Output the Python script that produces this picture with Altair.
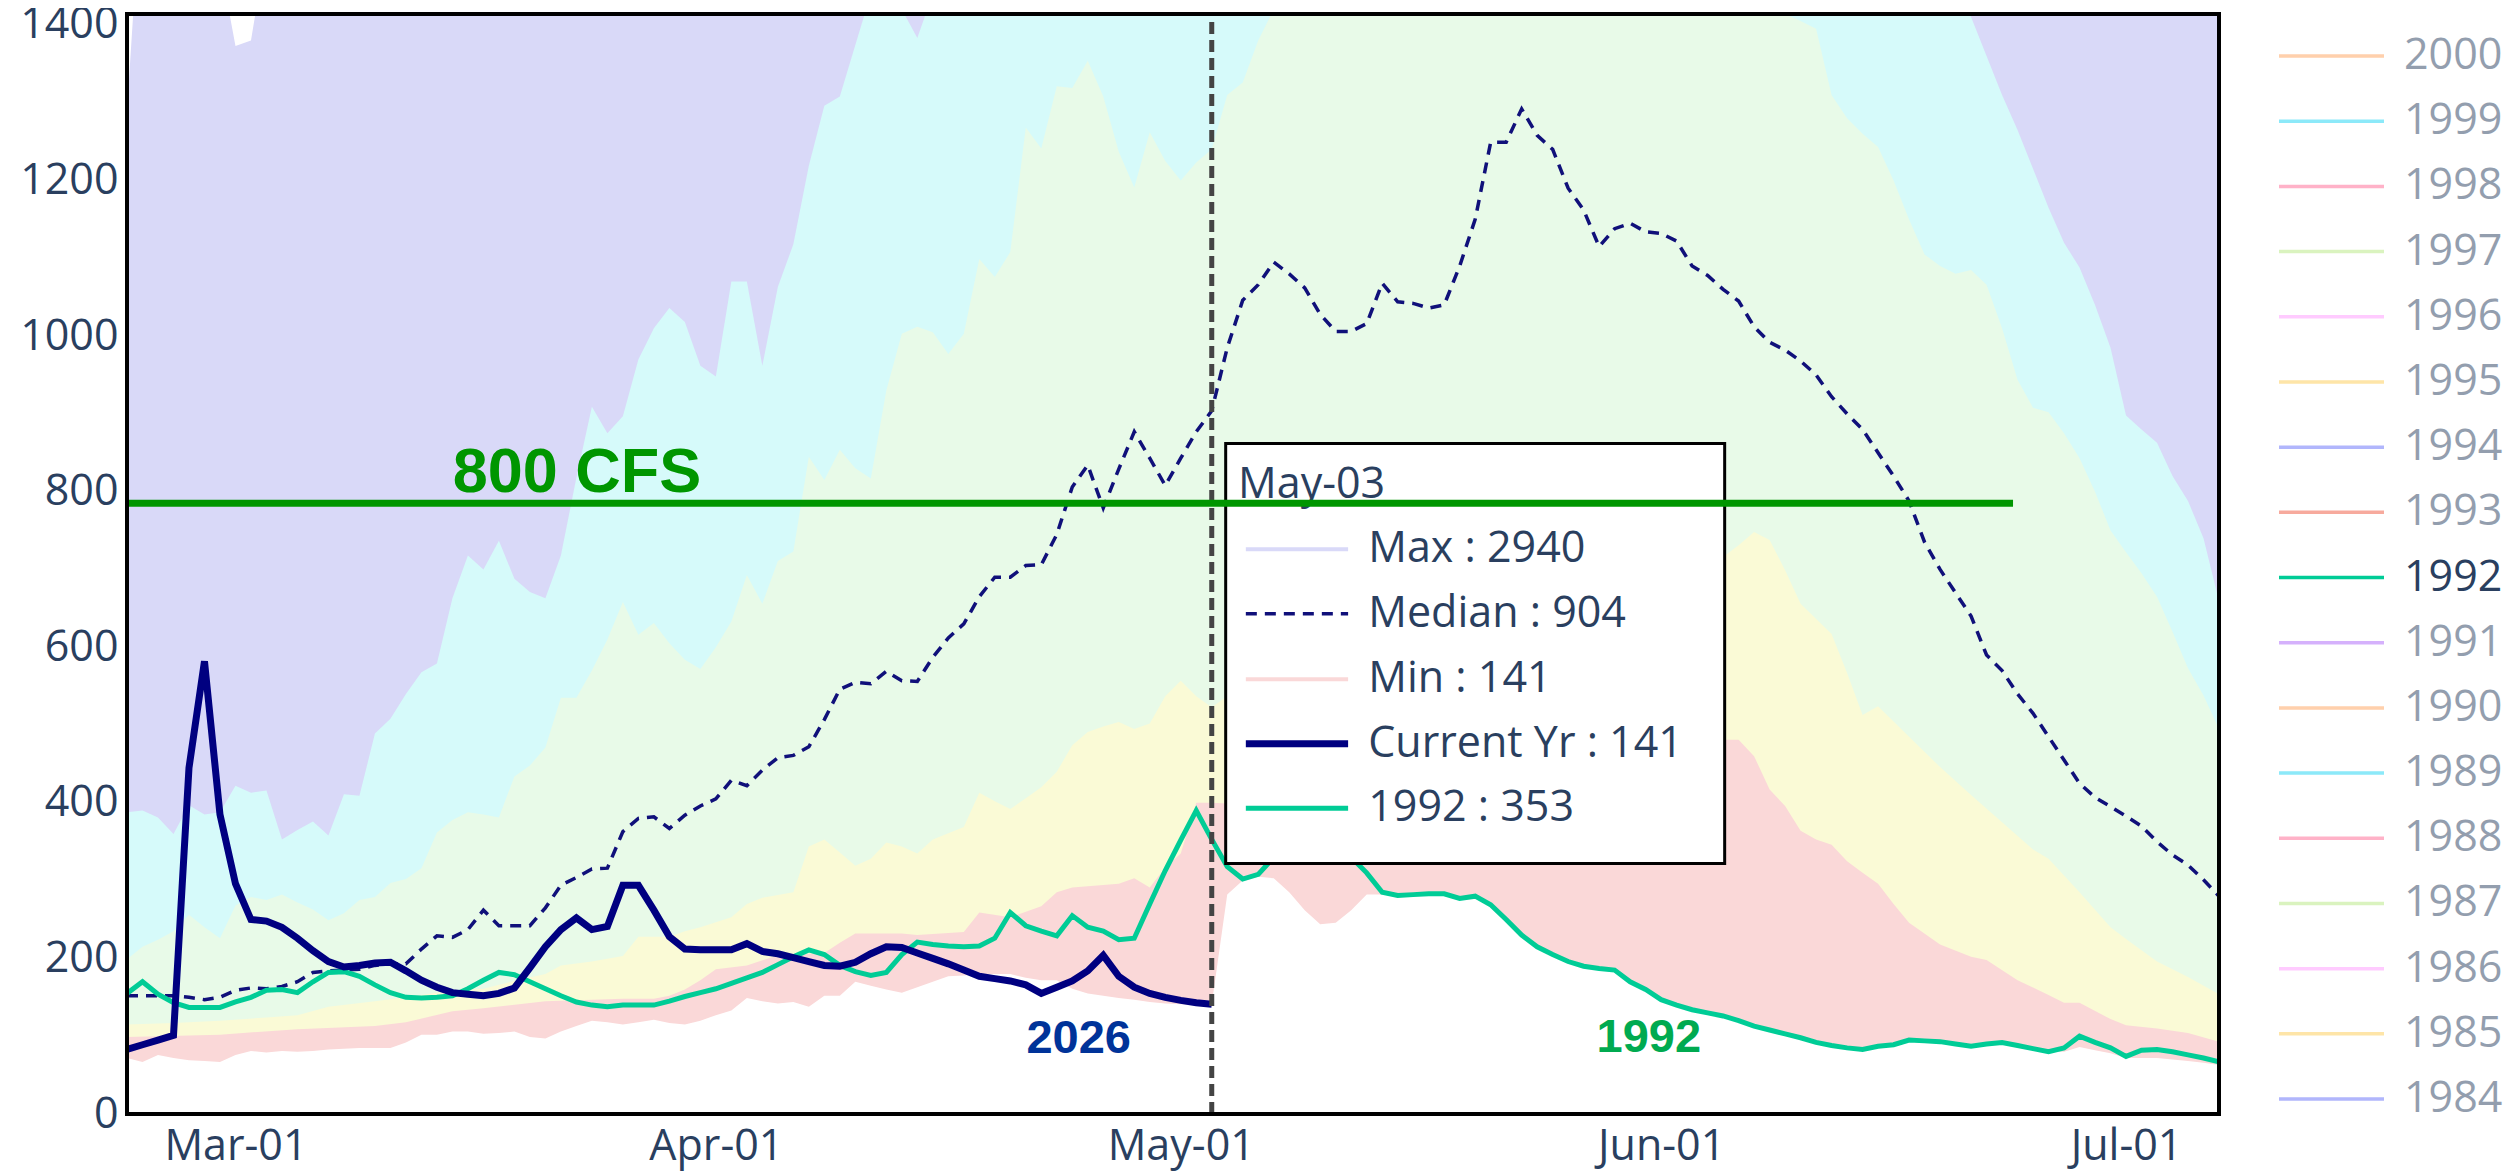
import altair as alt
import pandas as pd

START = "2026-02-22"
DOMAIN_START = "2026-02-22"
DOMAIN_END = "2026-07-07"

# ---------------- daily series (first value = Feb 22) ----------------
CURRENT_YR = [83, 89, 95, 101, 445, 582, 385, 296, 250, 248,
              240, 226, 210, 196, 189, 191, 194, 195, 184, 172,
              163, 156, 154, 152, 155, 162, 188, 215, 237, 252,
              237, 241, 294, 294, 262, 228, 212, 211, 211, 211,
              219, 209, 206, 201, 196, 191, 190, 195, 206, 215,
              214, 207, 200, 193, 185, 177, 174, 171, 166, 155,
              163, 171, 184, 204, 177, 163, 155, 150, 146, 143, 141]

Y1992 = [155, 170, 154, 143, 137, 137, 137, 144, 150, 159,
         160, 156, 170, 182, 183, 177, 166, 156, 150, 149,
         150, 152, 161, 172, 182, 179, 170, 161, 152, 144,
         140, 138, 140, 140, 140, 145, 151, 156, 161, 168,
         175, 182, 192, 202, 211, 205, 191, 183, 178, 182,
         205, 221, 218, 216, 215, 216, 226, 259, 242, 235,
         229, 255, 240, 235, 224, 226, 270, 313, 352, 390,
         353, 318, 302, 308, 330, 345, 350, 348, 340, 330,
         310, 285, 281, 282, 283, 283, 277, 280, 269, 250,
         230, 215, 205, 196, 190, 187, 185, 170, 160, 147,
         140, 134, 130, 126, 120, 113, 108, 103, 98, 92,
         88, 85, 83, 87, 89, 95, 94, 93, 90, 87,
         90, 92, 88, 84, 80, 85, 100, 92, 85, 74,
         82, 83, 80, 76, 72, 67]

MEDIAN = [152, 152, 152, 152, 150, 147, 150, 159, 162, 161,
          164, 170, 182, 184, 185, 186, 191, 193, 193, 212,
          229, 227, 237, 262, 242, 242, 242, 265, 294, 304,
          315, 316, 363, 380, 382, 367, 384, 396, 405, 429,
          422, 442, 458, 461, 472, 507, 546, 555, 553, 569,
          557, 556, 587, 612, 630, 665, 690, 690, 705, 706,
          745, 806, 834, 779, 829, 877, 843, 808, 843, 877,
          904, 985, 1046, 1066, 1095, 1080, 1062, 1028, 1006, 1006,
          1016, 1068, 1044, 1042, 1036, 1040, 1090, 1150, 1249, 1249,
          1292, 1258, 1240, 1190, 1162, 1115, 1138, 1145, 1134, 1132,
          1122, 1090, 1078, 1060, 1045, 1012, 992, 982, 968, 950,
          922, 900, 880, 850, 820, 788, 735, 700, 670, 640,
          590, 570, 540, 515, 485, 455, 425, 407, 395, 383,
          370, 350, 333, 320, 301, 280]

MIN_FLOW = [72, 67, 76, 72, 69, 68, 67, 76, 81, 79,
            81, 80, 81, 83, 84, 85, 85, 85, 92, 102,
            102, 106, 106, 103, 104, 106, 99, 97, 106, 113,
            120, 118, 115, 118, 121, 117, 115, 120, 127, 133,
            149, 145, 142, 144, 138, 152, 152, 170, 165, 160,
            156, 163, 170, 177, 178, 180, 180, 180, 175, 172,
            172, 161, 155, 152, 149, 147, 144, 142, 141, 140,
            141, 282, 300, 305, 303, 285, 262, 244, 246, 262,
            282, 282, 280, 282, 283, 283, 277, 280, 269, 250,
            230, 215, 205, 196, 190, 187, 185, 170, 160, 147,
            140, 134, 130, 126, 120, 113, 108, 103, 98, 92,
            88, 85, 83, 87, 89, 95, 94, 93, 90, 87,
            90, 92, 88, 84, 80, 80, 86, 82, 78, 72,
            72, 72, 70, 68, 66, 63]

# ---------------- sparse band boundaries (MM-DD, cfs) ----------------
MAX_DATES = ["02-22", "02-23", "02-28", "03-01", "03-02", "03-03", "03-15", "05-03", "06-10", "07-07"]
MAX_VALS = [1290, 1600, 1480, 1373, 1380, 1500, 2000, 2940, 2200, 1500]

P90_DATES = ["02-22", "02-23", "02-24", "02-25", "02-26", "02-27", "02-28", "03-01", "03-02", "03-03",
             "03-04", "03-05", "03-06", "03-07", "03-08", "03-09", "03-10", "03-11", "03-12", "03-13",
             "03-14", "03-15", "03-16", "03-17", "03-18", "03-19", "03-20", "03-21", "03-22", "03-23",
             "03-24", "03-25", "03-26", "03-27", "03-28", "03-29", "03-30", "03-31", "04-01", "04-02",
             "04-03", "04-04", "04-05", "04-06", "04-07", "04-08", "04-09", "04-10", "04-11", "04-12",
             "04-13", "04-14", "04-15", "04-23", "05-13", "06-02", "06-18", "06-19", "06-20", "06-21",
             "06-22", "06-23", "06-24", "06-25", "06-26", "06-27", "06-28", "06-29", "06-30", "07-01",
             "07-02", "07-03", "07-04", "07-05", "07-06", "07-07"]
P90_VALS = [388, 390, 381, 360, 397, 385, 388, 422, 413, 416,
            353, 365, 376, 358, 411, 409, 489, 508, 540, 568,
            579, 663, 718, 700, 737, 688, 671, 663, 718, 818,
            909, 875, 897, 970, 1010, 1036, 1018, 962, 948, 1070,
            1070, 962, 1063, 1118, 1219, 1296, 1308, 1374, 1440, 1460,
            1420, 1383, 1440, 1800, 2100, 1800, 1560, 1500, 1450, 1410,
            1360, 1310, 1265, 1215, 1165, 1120, 1088, 1040, 985, 898,
            880, 863, 820, 788, 740, 659]

P75_DATES = ["02-22", "02-23", "02-24", "02-25", "02-26", "02-27", "02-28", "03-01", "03-02", "03-03",
             "03-04", "03-05", "03-06", "03-07", "03-08", "03-09", "03-10", "03-11", "03-12", "03-13",
             "03-14", "03-15", "03-16", "03-17", "03-18", "03-19", "03-20", "03-21", "03-22", "03-23",
             "03-24", "03-25", "03-26", "03-27", "03-28", "03-29", "03-30", "03-31", "04-01", "04-02",
             "04-03", "04-04", "04-05", "04-06", "04-07", "04-08", "04-09", "04-10", "04-11", "04-12",
             "04-13", "04-14", "04-15", "04-16", "04-17", "04-18", "04-19", "04-20", "04-21", "04-22",
             "04-23", "04-24", "04-25", "04-26", "04-27", "04-28", "04-29", "04-30", "05-01", "05-02",
             "05-03", "05-04", "05-05", "05-06", "05-07", "05-13", "05-28", "06-07", "06-08", "06-09",
             "06-10", "06-11", "06-12", "06-13", "06-14", "06-15", "06-16", "06-17", "06-18", "06-19",
             "06-20", "06-21", "06-22", "06-23", "06-24", "06-25", "06-26", "06-27", "06-28", "06-29",
             "06-30", "07-01", "07-02", "07-03", "07-04", "07-05", "07-06", "07-07"]
P75_VALS = [199, 215, 224, 235, 256, 240, 226, 268, 279, 275,
            282, 272, 263, 249, 258, 275, 279, 297, 302, 316,
            362, 378, 388, 385, 381, 434, 448, 471, 535, 535,
            570, 610, 658, 616, 631, 605, 584, 572, 600, 633,
            693, 656, 711, 723, 845, 815, 854, 830, 817, 930,
            1003, 1012, 1005, 977, 1003, 1099, 1076, 1108, 1268, 1241,
            1321, 1319, 1354, 1308, 1237, 1191, 1262, 1225, 1200, 1223,
            1240, 1310, 1326, 1380, 1420, 1600, 1700, 1500, 1450, 1414,
            1405, 1395, 1310, 1280, 1260, 1243, 1200, 1150, 1105, 1090,
            1080, 1085, 1066, 1010, 944, 908, 902, 875, 843, 800,
            750, 722, 695, 665, 620, 573, 538, 495]

P25_DATES = ["02-22", "02-25", "02-28", "03-03", "03-05", "03-07", "03-10", "03-12", "03-15", "03-17",
             "03-19", "03-21", "03-22", "03-24", "03-26", "03-27", "03-29", "03-30", "03-31", "04-02",
             "04-03", "04-04", "04-06", "04-07", "04-08", "04-09", "04-10", "04-11", "04-12", "04-13",
             "04-14", "04-15", "04-16", "04-17", "04-18", "04-19", "04-20", "04-21", "04-22", "04-23",
             "04-24", "04-25", "04-26", "04-27", "04-28", "04-29", "04-30", "05-01", "05-02", "05-03",
             "05-04", "05-08", "05-13", "05-18", "05-23", "05-28", "06-02", "06-04", "06-05", "06-06",
             "06-07", "06-08", "06-09", "06-10", "06-12", "06-13", "06-14", "06-15", "06-17", "06-19",
             "06-21", "06-23", "06-25", "06-26", "06-28", "06-30", "07-01", "07-03", "07-05", "07-07"]
P25_VALS = [115, 117, 120, 124, 127, 138, 145, 150, 159, 161,
            171, 180, 191, 196, 203, 228, 228, 235, 240, 253,
            270, 278, 285, 344, 353, 336, 319, 328, 349, 344,
            335, 353, 361, 369, 413, 402, 392, 406, 420, 440,
            474, 491, 498, 504, 495, 502, 537, 557, 537, 523,
            537, 560, 590, 620, 650, 680, 705, 712, 716, 731,
            748, 738, 699, 656, 617, 567, 513, 524, 485, 446,
            410, 375, 340, 328, 285, 240, 225, 196, 176, 154]

P10_DATES = ["02-22", "02-28", "03-05", "03-10", "03-12", "03-15", "03-17", "03-21", "03-24", "03-26",
             "03-28", "03-29", "03-30", "03-31", "04-01", "04-03", "04-05", "04-08", "04-09", "04-10",
             "04-13", "04-14", "04-17", "04-18", "04-20", "04-22", "04-23", "04-24", "04-27", "04-28",
             "04-29", "04-30", "05-01", "05-02", "05-03", "05-04", "05-08", "05-13", "05-18", "05-23",
             "05-28", "06-02", "06-04", "06-05", "06-06", "06-07", "06-08", "06-09", "06-10", "06-11",
             "06-12", "06-13", "06-14", "06-15", "06-16", "06-17", "06-19", "06-21", "06-22", "06-24",
             "06-26", "06-27", "06-28", "06-30", "07-01", "07-03", "07-05", "07-07"]
P10_VALS = [99, 102, 109, 113, 118, 132, 136, 145, 147, 148,
            148, 152, 160, 172, 186, 191, 204, 207, 220, 232,
            232, 230, 234, 259, 253, 267, 285, 291, 296, 303,
            291, 317, 335, 400, 400, 399, 410, 430, 450, 465,
            475, 480, 482, 481, 481, 460, 417, 396, 364, 353,
            346, 325, 310, 296, 270, 246, 218, 202, 198, 172,
            153, 143, 143, 122, 114, 110, 104, 93]

# ---------------- annotations ----------------
LIMIT_CFS = 785
HOVER_DATE_LABEL = "May-03"
HOVER_ROWS = ["Max : 2940", "Median : 904", "Min : 141", "Current Yr : 141", "1992 : 353"]

YEARS = ["2000", "1999", "1998", "1997", "1996", "1995", "1994", "1993", "1992",
         "1991", "1990", "1989", "1988", "1987", "1986", "1985", "1984"]
YEAR_COLORS = ["#FFA15A", "#19D3F3", "#FF6692", "#B6E880", "#FF97FF", "#FECB52", "#636EFA", "#EF553B",
               "#00CC96", "#AB63FA", "#FFA15A", "#19D3F3", "#FF6692", "#B6E880", "#FF97FF", "#FECB52",
               "#636EFA"]
YEAR_SHOWN = ["1992"]

# ---------------- helpers ----------------
def daily(values):
    dates = pd.date_range(START, periods=len(values), freq="D").strftime("%Y-%m-%d")
    return pd.DataFrame({"date": list(dates), "value": values})


def dated(mmdd, values):
    return pd.DataFrame({"date": ["2026-" + d for d in mmdd], "value": values})


W, H = 2092, 1100
FONT = "Open Sans"
TXT = "#2a3f5f"

X_SCALE = alt.Scale(type="utc", domain=[alt.DateTime(year=2026, month=2, date=22, utc=True),
                                        alt.DateTime(year=2026, month=7, date=7, utc=True)], nice=False)
Y_SCALE = alt.Scale(domain=[0, 1414], nice=False, zero=True)
X_AXIS = alt.Axis(values=[alt.DateTime(year=2026, month=m, date=1, utc=True) for m in [3, 4, 5, 6, 7]],
                  labelExpr="utcFormat(datum.value, '%b-%d')",
                  labelFont=FONT, labelFontSize=43, labelColor=TXT,
                  ticks=False, labelPadding=11, domain=False, grid=False, title=None,
                  labelOverlap=False, labelFlush=False)
Y_AXIS = alt.Axis(values=list(range(0, 1401, 200)), format="d", labelFont=FONT, labelFontSize=43,
                  labelColor=TXT, ticks=False, labelPadding=9, domain=False, grid=False, title=None,
                  labelOverlap=False, labelFlush=False)


def xe(field="date"):
    return alt.X(f"{field}:T", scale=X_SCALE, axis=X_AXIS)


def ye(field="value"):
    return alt.Y(f"{field}:Q", scale=Y_SCALE, axis=Y_AXIS)


def band(df, color):
    return alt.Chart(df).mark_area(color=color, opacity=1, clip=True, interpolate="linear").encode(
        x=xe(), y=ye())


layers = [
    band(dated(MAX_DATES, MAX_VALS), "#d9d9f8"),
    band(dated(P90_DATES, P90_VALS), "#d6fafa"),
    band(dated(P75_DATES, P75_VALS), "#e8fae8"),
    band(dated(P25_DATES, P25_VALS), "#fafad6"),
    band(dated(P10_DATES, P10_VALS), "#fad8d8"),
    band(daily(MIN_FLOW), "#ffffff"),
    alt.Chart(daily(MEDIAN)).mark_line(color="#10107a", strokeWidth=3.5, strokeDash=[11, 8], clip=True).encode(
        x=xe(), y=ye()),
    alt.Chart(daily(Y1992)).mark_line(color="#00cc96", strokeWidth=5, clip=True).encode(x=xe(), y=ye()),
    alt.Chart(daily(CURRENT_YR)).mark_line(color="#000080", strokeWidth=7, clip=True).encode(x=xe(), y=ye()),
]

# vertical dashed "today" line
today = pd.DataFrame({"date": ["2026-05-03"], "value": [0], "value2": [1414]})
layers.append(alt.Chart(today).mark_rule(color="#444444", strokeWidth=5, strokeDash=[12, 6]).encode(
    x=xe(), y=ye(), y2="value2:Q"))

# year labels
lab2026 = pd.DataFrame({"date": ["2026-04-24T10:00:00Z"], "value": [78], "t": ["2026"]})
lab1992 = pd.DataFrame({"date": ["2026-05-31T05:00:00Z"], "value": [80], "t": ["1992"]})
layers.append(alt.Chart(lab2026).mark_text(font="Liberation Sans", fontWeight="bold", fontSize=47,
                                           color="#003399", align="center", baseline="alphabetic").encode(
    x=xe(), y=ye(), text="t:N"))
layers.append(alt.Chart(lab1992).mark_text(font="Liberation Sans", fontWeight="bold", fontSize=47,
                                           color="#00aa50", align="center", baseline="alphabetic").encode(
    x=xe(), y=ye(), text="t:N"))

# hover box
box = pd.DataFrame({"date": ["2026-05-03T21:36:00Z"], "date2": ["2026-06-05T02:24:00Z"],
                    "value": [322], "value2": [862]})
layers.append(alt.Chart(box).mark_rect(fill="white", stroke="black", strokeWidth=3).encode(
    x=xe(), x2="date2:T", y=ye(), y2="value2:Q"))
title = pd.DataFrame({"date": ["2026-05-04T16:48:00Z"], "value": [792], "t": [HOVER_DATE_LABEL]})
layers.append(alt.Chart(title).mark_text(font=FONT, fontSize=43, color=TXT, align="left",
                                         baseline="alphabetic").encode(x=xe(), y=ye(), text="t:N"))
ROW_Y = [726, 643, 559, 476, 393]
ROW_STYLE = [("#d9d9f8", 4, None), ("#10107a", 3.5, [11, 8]), ("#fad8d8", 4, None),
             ("#000080", 7, None), ("#00cc96", 5, None)]
for yv, (col, sw, dash) in zip(ROW_Y, ROW_STYLE):
    seg = pd.DataFrame({"date": ["2026-05-05T04:48:00Z"], "date2": ["2026-05-11T19:12:00Z"], "value": [yv]})
    kw = dict(color=col, strokeWidth=sw)
    if dash:
        kw["strokeDash"] = dash
    layers.append(alt.Chart(seg).mark_rule(**kw).encode(x=xe(), x2="date2:T", y=ye()))
rows = pd.DataFrame({"date": ["2026-05-13T02:24:00Z"] * 5, "value": ROW_Y, "t": HOVER_ROWS})
layers.append(alt.Chart(rows).mark_text(font=FONT, fontSize=43, color=TXT, align="left",
                                        baseline="middle").encode(x=xe(), y=ye(), text="t:N"))

# 800 cfs line + label
limit = pd.DataFrame({"date": ["2026-02-22"], "date2": ["2026-06-23T17:00:00Z"], "value": [LIMIT_CFS]})
layers.append(alt.Chart(limit).mark_rule(color="#009600", strokeWidth=7).encode(
    x=xe(), x2="date2:T", y=ye()))
lim_lab = pd.DataFrame({"date": ["2026-03-23T01:00:00Z"], "value": [800], "t": ["800 CFS"]})
layers.append(alt.Chart(lim_lab).mark_text(font="Liberation Sans", fontWeight="bold", fontSize=63,
                                           color="#009600", align="center", baseline="alphabetic").encode(
    x=xe(), y=ye(), text="t:N"))

# frame
frame = pd.DataFrame({"date": [DOMAIN_START], "date2": [DOMAIN_END], "value": [0], "value2": [1414]})
layers.append(alt.Chart(frame).mark_rect(fillOpacity=0, stroke="black", strokeWidth=4).encode(
    x=xe(), x2="date2:T", y=ye(), y2="value2:Q"))

main = alt.layer(*layers)

# right-hand year legend
leg = pd.DataFrame({"year": YEARS, "color": YEAR_COLORS,
                    "op": [1.0 if y in YEAR_SHOWN else 0.5 for y in YEARS]})
LEG_Y = alt.Y("year:N", sort=YEARS, scale=alt.Scale(type="point", range=[42, 1085], padding=0), axis=None)
legend = alt.layer(
    alt.Chart(leg).mark_rule(strokeWidth=3.5).encode(
        x=alt.value(2152), x2=alt.value(2257), y=LEG_Y,
        color=alt.Color("color:N", scale=None), opacity=alt.Opacity("op:Q", scale=None)),
    alt.Chart(leg).mark_text(font=FONT, fontSize=43, color=TXT, align="left", baseline="middle").encode(
        x=alt.value(2277), y=LEG_Y, text="year:N", opacity=alt.Opacity("op:Q", scale=None)),
)

chart = alt.layer(main, legend).resolve_scale(y="independent").properties(
    width=W, height=H,
    autosize=alt.AutoSizeParams(type="none"),
    padding={"left": 119, "top": 6, "right": 290, "bottom": 60},
).configure_view(stroke=None)

chart.save("out.html", embed_options={"renderer": "svg", "actions": False})
